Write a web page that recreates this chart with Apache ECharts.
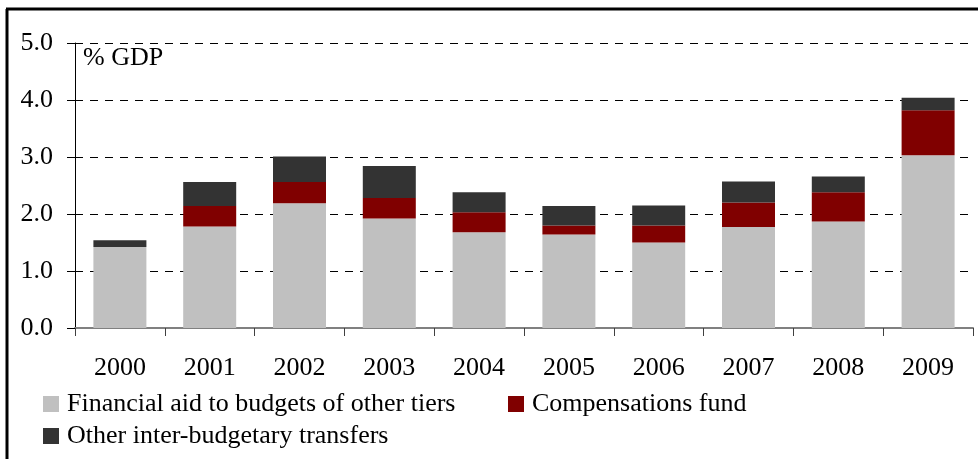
<!DOCTYPE html>
<html>
<head>
<meta charset="utf-8">
<script src="https://cdn.jsdelivr.net/npm/echarts@6/dist/echarts.min.js"></script>
<style>
    html, body { margin: 0; padding: 0; background: #fff; }
    #chart { width: 978px; height: 459px; }
</style>
</head>
<body>
<div id="chart"></div>
<script type="text/javascript">
    // values, % of GDP
    var years = ['2000', '2001', '2002', '2003', '2004', '2005', '2006', '2007', '2008', '2009'];
    var financialAid = [1.42, 1.78, 2.19, 1.92, 1.68, 1.64, 1.50, 1.77, 1.87, 3.03];
    var compensations = [0, 0.36, 0.37, 0.36, 0.35, 0.16, 0.30, 0.43, 0.51, 0.79];
    var otherTransfers = [0.12, 0.42, 0.45, 0.56, 0.35, 0.34, 0.35, 0.37, 0.28, 0.22];

    var names = ['Financial aid to budgets of other tiers', 'Compensations fund', 'Other inter-budgetary transfers'];
    var colors = ['#c0c0c0', '#800000', '#333333'];
    var font = '"Liberation Serif", "Times New Roman", serif';

    var chart = echarts.init(document.getElementById('chart'), null, { renderer: 'canvas' });

    function legendAt(name, left, top) {
        return {
            data: [name],
            left: left,
            top: top,
            icon: 'rect',
            itemWidth: 16,
            itemHeight: 16,
            padding: 0,
            textStyle: { fontFamily: font, fontSize: 26, color: '#000', lineHeight: 26, padding: [0, 0, 0, 3] }
        };
    }

    function barSeries(i, values) {
        return {
            name: names[i],
            type: 'bar',
            stack: 'total',
            barWidth: 53,
            itemStyle: { color: colors[i] },
            data: values
        };
    }

    var option = {
        animation: false,
        backgroundColor: '#fff',
        grid: { left: 75, right: 5, top: 43, bottom: 131 },
        legend: [
            legendAt(names[0], 43, 391),
            legendAt(names[1], 508, 391),
            legendAt(names[2], 43, 423)
        ],
        xAxis: {
            type: 'category',
            data: years,
            axisLine: { lineStyle: { color: '#808080', width: 2 } },
            axisTick: { show: true, length: 8, lineStyle: { color: '#404040', width: 1 } },
            axisLabel: { fontFamily: font, fontSize: 26, color: '#000', margin: 27 }
        },
        yAxis: {
            type: 'value',
            min: 0,
            max: 5,
            interval: 1,
            axisLine: { show: true, lineStyle: { color: '#000', width: 1 } },
            axisTick: { show: true, length: 8, lineStyle: { color: '#000' } },
            axisLabel: {
                fontFamily: font, fontSize: 26, color: '#000', margin: 22,
                formatter: function (v) { return v.toFixed(1); }
            },
            splitLine: { lineStyle: { color: '#000', type: [8, 7], width: 1 } }
        },
        graphic: [
            { type: 'line', shape: { x1: 7, y1: 9, x2: 7, y2: 459 }, style: { stroke: '#000', lineWidth: 3 } },
            { type: 'line', shape: { x1: 6, y1: 9, x2: 978, y2: 9 }, style: { stroke: '#000', lineWidth: 3 } },
            {
                type: 'text', left: 83, top: 45,
                style: { text: '% GDP', fontFamily: font, fontSize: 26, fill: '#000' }
            }
        ],
        series: [
            barSeries(0, financialAid),
            barSeries(1, compensations),
            barSeries(2, otherTransfers)
        ]
    };

    chart.setOption(option);
</script>
</body>
</html>
